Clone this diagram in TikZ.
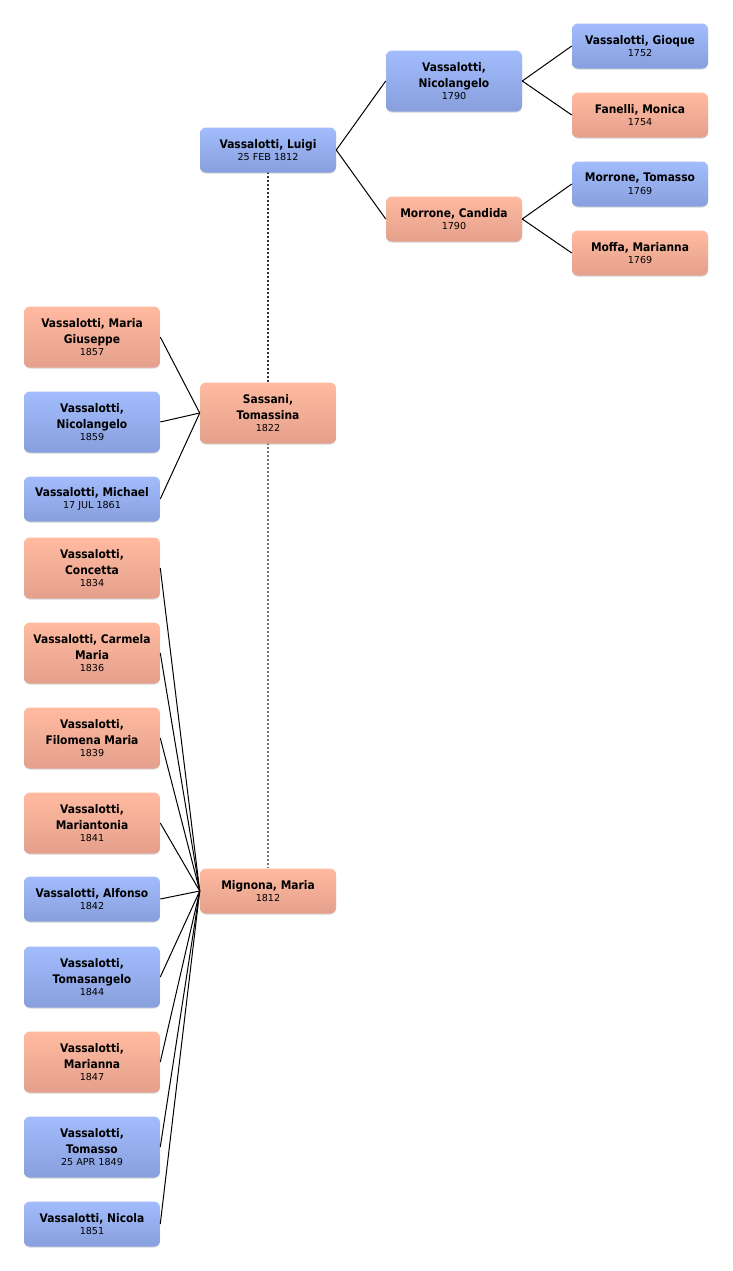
\documentclass[tikz,border=0pt]{standalone}
\usepackage{fontspec}
\setmainfont{DejaVu Sans}
\newfontfamily\nmfont[FakeStretch=0.9]{DejaVu Sans}
\newfontfamily\dtfont{DejaVu Sans}
\usetikzlibrary{shadows}
\definecolor{btop}{HTML}{A2BCFC}
\definecolor{bbot}{HTML}{889FDD}
\definecolor{ptop}{HTML}{FFBAA0}
\definecolor{pbot}{HTML}{E5A08D}
\newcommand{\nm}{\nmfont\bfseries\fontsize{8.9}{11.8}\selectfont}
\newcommand{\dt}[1]{\\[-2.4pt]{\dtfont\mdseries\fontsize{7.2}{9}\selectfont #1}}
\tikzset{
  person/.style={rounded corners=4.5pt, minimum width=102pt, inner sep=0pt,
    align=center, font=\nm,
    drop shadow={shadow xshift=0pt, shadow yshift=-0.8pt, opacity=0.25, fill=black!60}},
  male/.style={person, top color=btop, bottom color=bbot},
  female/.style={person, top color=ptop, bottom color=pbot},
  two/.style={minimum height=33.75pt},
  three/.style={minimum height=45.75pt},
  link/.style={draw=black, line width=0.75pt},
  marriage/.style={line width=1.4pt, dash pattern=on 1.5pt off 1.5pt},
}
\begin{document}
\begin{tikzpicture}[x=0.75pt,y=-0.75pt]
\useasboundingbox (0,0) rectangle (732,1271);
\fill[white] (0,0) rectangle (732,1271);
% marriage lines (behind nodes)
\coordinate (lb) at (268,172);
\coordinate (st) at (268,383);
\coordinate (sb) at (268,443);
\coordinate (mt) at (268,868);
\draw[marriage, draw=black!80] (lb) -- (st);
\draw[marriage, draw=black!55] (sb) -- (mt);
% ancestors
\node[male,two]    (gioque)   at (640,46)  {Vassalotti, Gioque\dt{1752}};
\node[female,two]  (fanelli)  at (640,115) {Fanelli, Monica\dt{1754}};
\node[male,two]    (tmorrone) at (640,184) {Morrone, Tomasso\dt{1769}};
\node[female,two]  (moffa)    at (640,253) {Moffa, Marianna\dt{1769}};
\node[male,three]  (nicolA)   at (454,81)  {Vassalotti,\\Nicolangelo\dt{1790}};
\node[female,two]  (candida)  at (454,219) {Morrone, Candida\dt{1790}};
\node[male,two]    (luigi)    at (268,150) {Vassalotti, Luigi\dt{25 FEB 1812}};
% spouses
\node[female,three] (sassani) at (268,413) {Sassani,\\Tomassina\dt{1822}};
\node[female,two]   (mignona) at (268,891) {Mignona, Maria\dt{1812}};
% children of Sassani
\node[female,three] (mgiuseppe) at (92,337) {Vassalotti, Maria\\Giuseppe\dt{1857}};
\node[male,three]   (nicolB)    at (92,422) {Vassalotti,\\Nicolangelo\dt{1859}};
\node[male,two]     (michael)   at (92,499) {Vassalotti, Michael\dt{17 JUL 1861}};
% children of Mignona
\node[female,three] (concetta)    at (92,568)  {Vassalotti,\\Concetta\dt{1834}};
\node[female,three] (carmela)     at (92,653)  {Vassalotti, Carmela\\Maria\dt{1836}};
\node[female,three] (filomena)    at (92,738)  {Vassalotti,\\Filomena Maria\dt{1839}};
\node[female,three] (mariantonia) at (92,823)  {Vassalotti,\\Mariantonia\dt{1841}};
\node[male,two]     (alfonso)     at (92,899)  {Vassalotti, Alfonso\dt{1842}};
\node[male,three]   (tomasangelo) at (92,977)  {Vassalotti,\\Tomasangelo\dt{1844}};
\node[female,three] (marianna)    at (92,1062) {Vassalotti,\\Marianna\dt{1847}};
\node[male,three]   (tomasso)     at (92,1147) {Vassalotti,\\Tomasso\dt{25 APR 1849}};
\node[male,two]     (nicola)      at (92,1224) {Vassalotti, Nicola\dt{1851}};
% connectors
\draw[link] (luigi.east) -- (nicolA.west);
\draw[link] (luigi.east) -- (candida.west);
\draw[link] (nicolA.east) -- (gioque.west);
\draw[link] (nicolA.east) -- (fanelli.west);
\draw[link] (candida.east) -- (tmorrone.west);
\draw[link] (candida.east) -- (moffa.west);
\foreach \c in {mgiuseppe,nicolB,michael}
  \draw[link] (\c.east) -- (sassani.west);
\foreach \c in {concetta,carmela,filomena,mariantonia,alfonso,tomasangelo,marianna,tomasso,nicola}
  \draw[link] (\c.east) -- (mignona.west);
\end{tikzpicture}
\end{document}
